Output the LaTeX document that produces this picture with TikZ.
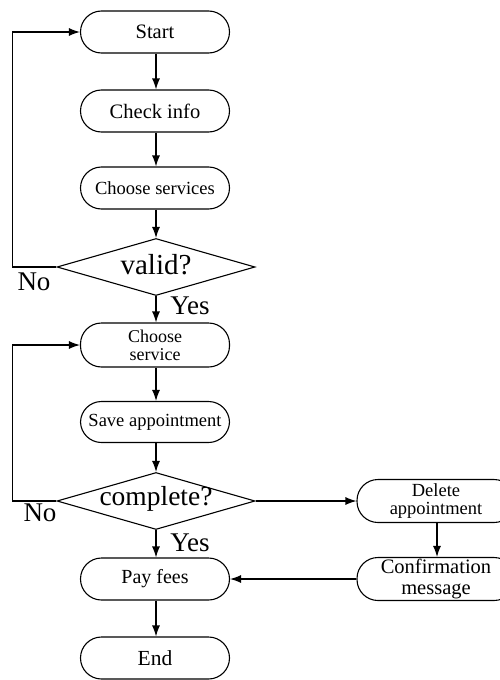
\documentclass[tikz,border=0pt]{standalone}
\usepackage{fontspec}
\setmainfont{Liberation Serif}
\usetikzlibrary{shapes.geometric,arrows.meta}
\newcommand{\fs}[1]{\fontsize{#1}{#1}\selectfont}
\begin{document}
\begin{tikzpicture}[x=1pt,y=-1pt,
  line width=1.1pt,
  proc/.style={draw, rectangle, rounded corners=21pt, minimum width=149pt, minimum height=42pt, inner sep=0pt, align=center},
  dec/.style={draw, diamond, minimum width=198pt, minimum height=57pt, inner sep=0pt},
  lab/.style={inner sep=0pt},
  arr/.style={-{Latex[length=11pt,width=8pt]}}]
\useasboundingbox (0,0) rectangle (499,680);
\node[proc, font=\fs{20.5}] (start) at (155,32) {Start};
\node[proc, font=\fs{20.5}] (check) at (155,111) {Check info};
\node[proc, font=\fs{18.5}] (choose) at (155,188) {Choose services};
\node[dec] (valid) at (156,267) {};
\node[lab, font=\fs{29}] (validt) at (156,265) {valid?};
\node[proc, minimum height=44pt, font=\fs{18}] (service) at (155,345) {Choose\\service};
\node[proc, minimum height=41pt, font=\fs{18.5}] (save) at (155,422) {Save appointment};
\node[dec] (complete) at (156,501) {};
\node[lab, font=\fs{27.5}] (completet) at (156,499) {complete?};
\node[proc, font=\fs{20}] (pay) at (155,579) {Pay fees};
\node[proc, font=\fs{21.5}] (endn) at (155,658) {End};
\node[proc, minimum width=158pt, minimum height=43pt, font=\fs{18.5}] (del) at (436,501) {Delete\\appointment};
\node[proc, minimum width=158pt, minimum height=43pt, font=\fs{20.5}] (conf) at (436,579) {Confirmation\\message};
\node[lab, font=\fs{27}] (no1) at (34,282) {No};
\node[lab, font=\fs{27}] (yes1) at (190,306) {Yes};
\node[lab, font=\fs{27}] (no2) at (40,513) {No};
\node[lab, font=\fs{27}] (yes2) at (190,543) {Yes};
\draw[arr] (start.south -| 156,0) -- (check.north -| 156,0);
\draw[arr] (check.south -| 156,0) -- (choose.north -| 156,0);
\draw[arr] (choose.south -| 156,0) -- (valid.north);
\draw[arr] (valid.south) -- (service.north -| 156,0);
\draw[arr] (service.south -| 156,0) -- (save.north -| 156,0);
\draw[arr] (save.south -| 156,0) -- (complete.north);
\draw[arr] (complete.south) -- (pay.north -| 156,0);
\draw[arr] (pay.south -| 156,0) -- (endn.north -| 156,0);
\draw[arr] (valid.west) -- ++(-44,0) |- (start.west);
\draw[arr] (complete.west) -- ++(-44,0) |- (service.west);
\draw[arr] (complete.east) -- (del.west);
\draw[arr] (del.south -| 437,0) -- (conf.north -| 437,0);
\draw[arr] (conf.west) -- (pay.east);
\end{tikzpicture}
\end{document}
